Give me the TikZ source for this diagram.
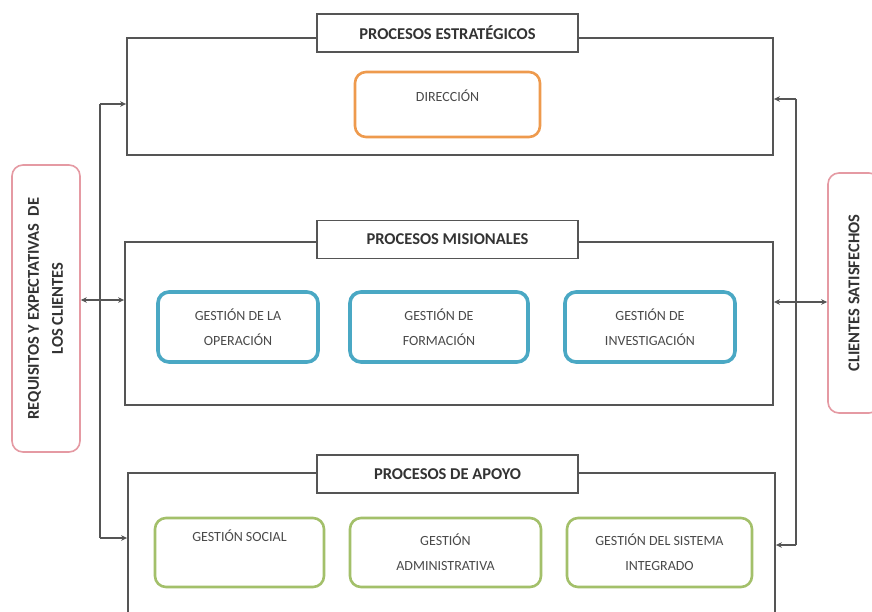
\documentclass[tikz,border=0pt]{standalone}
\usepackage{fontspec}
\setmainfont{Carlito}
\usetikzlibrary{arrows.meta}
\definecolor{lineg}{HTML}{555555}
\definecolor{txtg}{HTML}{333333}
\definecolor{txtl}{HTML}{4A4A4A}
\definecolor{orangeb}{HTML}{EE9A4D}
\definecolor{blueb}{HTML}{4AA8C4}
\definecolor{greenb}{HTML}{A3C06A}
\definecolor{pinkb}{HTML}{E59AA3}
\tikzset{
  outerbox/.style={draw=lineg, line width=1.8pt, fill=white, inner sep=0pt},
  titlebox/.style={draw=lineg, line width=1.5pt, fill=white, inner sep=0pt, text=txtg,
    font=\bfseries\fontsize{16.5}{19}\selectfont},
  procbox/.style={rounded corners=11pt, fill=white, inner sep=0pt, text=txtl, align=center,
    font=\fontsize{14}{25}\selectfont},
  orangebox/.style={procbox, draw=orangeb, line width=2.6pt},
  bluebox/.style={procbox, draw=blueb, line width=3.6pt},
  greenbox/.style={procbox, draw=greenb, line width=2.6pt},
  pinkbox/.style={rounded corners=11pt, draw=pinkb, line width=1.6pt, fill=white, inner sep=0pt,
    text=txtg, align=center, font=\bfseries\fontsize{16.5}{24}\selectfont},
  conn/.style={draw=lineg, line width=1.4pt},
  tip/.style={-{Stealth[length=6pt,width=5.5pt]}},
  tips/.style={{Stealth[length=6pt,width=5.5pt]}-{Stealth[length=6pt,width=5.5pt]}},
  lbl/.style={text=txtl, inner sep=0pt, align=center, font=\fontsize{14}{25}\selectfont}
}
\begin{document}
\begin{tikzpicture}[x=1pt,y=-1pt]
\useasboundingbox (0,0) rectangle (872,611);
\clip (0,0) rectangle (872,611);
\fill[white] (0,0) rectangle (872,611);

% outer process boxes
\node[outerbox, minimum width=646pt, minimum height=117pt] (est) at (450,96.5) {};
\node[outerbox, minimum width=648pt, minimum height=163pt] (mis) at (449,323.5) {};
\node[outerbox, minimum width=647pt, minimum height=180pt] (apo) at (451.5,563) {};

% titles
\node[titlebox, minimum width=261pt, minimum height=38pt] (test) at (447.5,33) {PROCESOS ESTRATÉGICOS};
\node[titlebox, minimum width=261pt, minimum height=38pt] (tmis) at (447.5,239.5) {PROCESOS MISIONALES};
\node[titlebox, minimum width=261pt, minimum height=38pt] (tapo) at (447.5,474) {PROCESOS DE APOYO};

% strategic
\node[orangebox, minimum width=185pt, minimum height=65pt] (dir) at (447.5,104.5) {};
\node[lbl] (dirt) at (447.5,96) {DIRECCIÓN};

% missional
\node[bluebox, minimum width=160pt, minimum height=70pt] (gop) at (238,327) {GESTIÓN DE LA\\OPERACIÓN};
\node[bluebox, minimum width=178pt, minimum height=70pt] (gfo) at (439,327) {GESTIÓN DE\\FORMACIÓN};
\node[bluebox, minimum width=170pt, minimum height=70pt] (gin) at (650,327) {GESTIÓN DE\\INVESTIGACIÓN};

% support
\node[greenbox, minimum width=169pt, minimum height=69pt] (gso) at (239.5,552.5) {};
\node[lbl] (gsot) at (239.5,536) {GESTIÓN SOCIAL};
\node[greenbox, minimum width=191pt, minimum height=69pt] (gad) at (445.5,552.5) {GESTIÓN\\ADMINISTRATIVA};
\node[greenbox, minimum width=185pt, minimum height=69pt] (gsi) at (659.5,552.5) {GESTIÓN DEL SISTEMA\\INTEGRADO};

% side boxes
\node[pinkbox, minimum width=68pt, minimum height=287pt] (req) at (46,308.5)
  {\rotatebox{90}{\begin{tabular}{@{}c@{}}REQUISITOS Y EXPECTATIVAS\ \ DE\\LOS CLIENTES\end{tabular}}};
\node[pinkbox, minimum width=52pt, minimum height=240pt] (sat) at (854,293)
  {\rotatebox{90}{CLIENTES SATISFECHOS}};

% left connectors
\coordinate (lt) at (100,104);
\coordinate (lm) at (100,300);
\coordinate (lb) at (100,538);
\draw[conn] (lt) -- (lb);
\draw[conn, tip] (lt) -- (lt -| est.west);
\draw[conn, tip] (lb) -- (lb -| apo.west);
\draw[conn, tips] (lm -| req.east) -- (lm -| mis.west);

% right connectors
\coordinate (rt) at (796,99);
\coordinate (rm) at (796,302);
\coordinate (rb) at (796,545);
\draw[conn] (rt) -- (rb);
\draw[conn, tip] (rt) -- (rt -| est.east);
\draw[conn, tip] (rb) -- (rb -| apo.east);
\draw[conn, tips] (rm -| mis.east) -- (rm -| sat.west);
\end{tikzpicture}
\end{document}
